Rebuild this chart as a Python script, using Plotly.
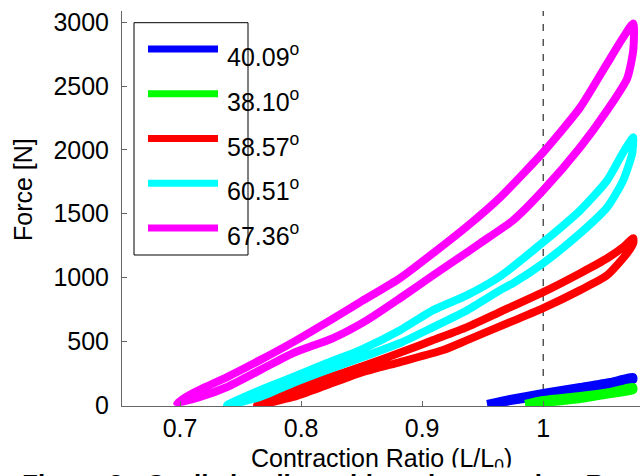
import plotly.graph_objects as go

# ---- data (contraction ratio L/L0, force N); each series is a closed loading/unloading loop
angles = ["40.09", "38.10", "58.57", "60.51", "67.36"]
colors = ["#0000FF", "#00FF00", "#FF0000", "#00FFFF", "#FF00FF"]

blue_x = [0.9537, 0.9727, 1.0, 1.0306, 1.0554, 1.0744, 1.0744, 1.0554, 1.0306, 1.0, 0.9727, 0.9537]
blue_f = [8, 47, 94, 141, 180, 219, 196, 157, 117, 70, 31, 0]

green_x = [0.9851, 1.0, 1.0306, 1.0554, 1.0744, 1.0744, 1.0554, 1.0306, 1.0, 0.9851]
green_f = [8, 39, 70, 102, 141, 117, 86, 47, 16, 0]

red_x = [0.7636, 0.7934, 0.8215, 0.8488, 0.8876, 0.9091, 0.9372, 0.9645, 1.0, 1.0306, 1.0529, 1.0661, 1.0744,
         1.0744, 1.0694, 1.0529, 1.0306, 1.0, 0.9752, 0.9372, 0.9174, 0.8818, 0.8488, 0.8215, 0.7934, 0.7636]
red_f = [0, 117, 211, 298, 431, 509, 611, 730, 885, 1034, 1151, 1238, 1308,
         1269, 1191, 1018, 901, 760, 660, 509, 431, 337, 251, 157, 63, 0]

cyan_x = [0.7388, 0.7661, 0.7934, 0.8215, 0.8488, 0.8818, 0.9091, 0.9372, 0.9645, 1.0, 1.0306, 1.0529, 1.0661, 1.0744,
          1.0744, 1.0736, 1.0661, 1.0529, 1.0306, 1.0, 0.9752, 0.9645, 0.9372, 0.9091, 0.8818, 0.8488, 0.8215, 0.7934, 0.7661, 0.7388]
cyan_f = [0, 117, 219, 329, 431, 587, 744, 862, 1010, 1277, 1527, 1762, 1982, 2099,
          2076, 1974, 1762, 1551, 1347, 1112, 956, 901, 744, 611, 486, 368, 274, 172, 63, 0]

magenta_x = [0.6975, 0.7107, 0.7388, 0.7661, 0.7934, 0.8215, 0.8488, 0.8818, 0.9091, 0.9372, 0.9645, 1.0, 1.0306, 1.0529, 1.0661, 1.0744,
             1.0744, 1.0694, 1.0529, 1.0306, 1.0, 0.9752, 0.9479, 0.9372, 0.9091, 0.8818, 0.8545, 0.8264, 0.7934, 0.7661, 0.7388, 0.7165, 0.6975]
magenta_f = [16, 94, 219, 352, 493, 650, 807, 995, 1191, 1402, 1629, 1982, 2334, 2679, 2883, 2992,
             2781, 2561, 2311, 2021, 1684, 1449, 1269, 1198, 1018, 838, 666, 525, 407, 274, 141, 63, 16]

x_ticks = [0.7, 0.8, 0.9, 1.0]
x_tick_text = ["0.7", "0.8", "0.9", "1"]
y_ticks = [0, 500, 1000, 1500, 2000, 2500, 3000]
ref_ratio = 1.0

series = [(blue_x, blue_f), (green_x, green_f), (red_x, red_f), (cyan_x, cyan_f), (magenta_x, magenta_f)]

FONT = "Liberation Sans, Arial, Helvetica, sans-serif"
W, H = 640, 476
ML, MR, MT, MB = 122, 0, 11, 70
PW, PH = W - ML - MR, H - MT - MB

def px(x):
    return (x - ML) / PW

def py(y):
    return (H - MB - y) / PH

fig = go.Figure()
for (xs, fs), name, col in zip(series, angles, colors):
    fig.add_trace(go.Scatter(x=xs, y=fs, mode="lines", name=name + "°",
                             line=dict(color=col, width=8, shape="spline", smoothing=0.6),
                             showlegend=False, hoverinfo="skip"))

# dashed reference line at L/L0 = 1
fig.add_shape(type="line", x0=ref_ratio, x1=ref_ratio, xref="x", y0=0, y1=1, yref="paper",
              line=dict(color="black", width=1, dash="7px,8px"), layer="below")

# legend (drawn manually to match long sample lines)
fig.add_shape(type="rect", xref="paper", yref="paper", x0=px(134), x1=px(248), y0=py(255), y1=py(22.7),
              line=dict(color="black", width=1), fillcolor="white", layer="above")
for i, (name, col) in enumerate(zip(angles, colors)):
    yl = 49 + 44.75 * i
    fig.add_shape(type="line", xref="paper", yref="paper", x0=px(148), x1=px(218), y0=py(yl), y1=py(yl),
                  line=dict(color=col, width=7), layer="above")
    fig.add_annotation(text=name + "<sup>o</sup>", xref="paper", yref="paper", x=px(225), y=py(yl + 6),
                       xanchor="left", yanchor="middle", showarrow=False,
                       font=dict(family=FONT, size=25, color="black"))

# axis titles
fig.add_annotation(text="Force [N]", xref="paper", yref="paper", x=px(23), y=py(190), textangle=-90,
                   xanchor="center", yanchor="middle", showarrow=False,
                   font=dict(family=FONT, size=25, color="black"))
fig.add_annotation(text="Contraction Ratio (L/L<sub>0</sub>)", xref="paper", yref="paper", x=px(381), y=py(460),
                   xanchor="center", yanchor="middle", showarrow=False,
                   font=dict(family=FONT, size=25, color="black"))
# figure caption (cut off at the bottom edge, as in the source)
fig.add_annotation(text="<b>Figure 3:  Cyclic loading with various angles, R</b>", xref="paper", yref="paper",
                   x=px(20), y=py(467), xanchor="left", yanchor="top", showarrow=False, bgcolor="white",
                   font=dict(family=FONT, size=26, color="black"))

fig.update_layout(
    width=W, height=H, margin=dict(l=ML, r=MR, t=MT, b=MB),
    paper_bgcolor="white", plot_bgcolor="white", showlegend=False,
    font=dict(family=FONT, size=25, color="black"),
    xaxis=dict(range=[0.652, 1.080], tickvals=x_ticks, ticktext=x_tick_text, ticks="inside", ticklen=5,
               tickcolor="#666", showline=True, linecolor="#666", linewidth=1, showgrid=False, zeroline=False,
               tickfont=dict(family=FONT, size=25, color="black")),
    yaxis=dict(range=[-7.8, 3090], tickvals=y_ticks, ticks="inside", ticklen=5, tickcolor="#666",
               showline=True, linecolor="#666", linewidth=1, showgrid=False, zeroline=False,
               ticklabelstandoff=7,
               tickfont=dict(family=FONT, size=25, color="black")),
)

fig.write_html("out.html", config={"displayModeBar": False},
               post_script="document.body.style.margin='0';document.body.style.overflow='hidden';")
